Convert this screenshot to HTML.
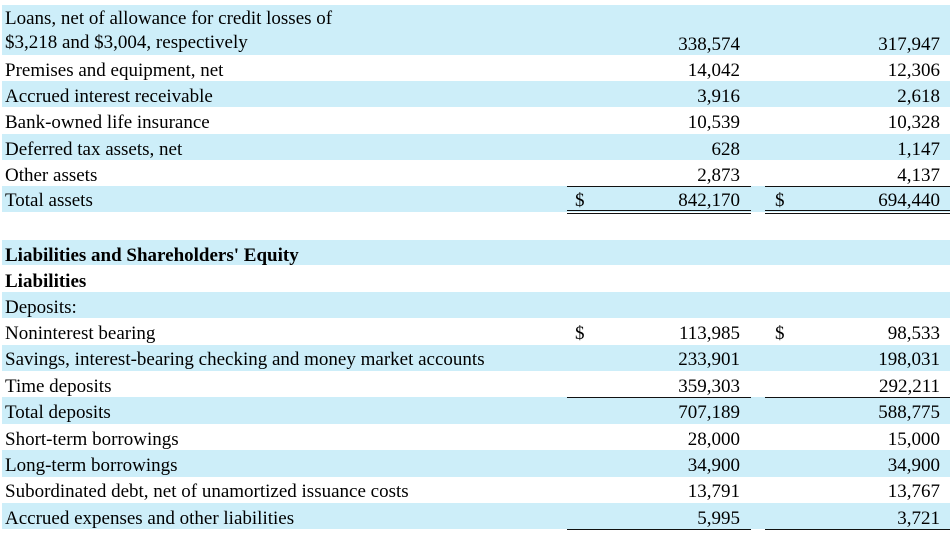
<!DOCTYPE html>
<html><head><style>
body{margin:0;width:950px;height:533px;overflow:hidden;background:#fff;font-family:"Liberation Serif",serif;font-size:19px;color:#000;position:relative}
.r{position:absolute;left:2px;width:948px}
.b{background:#cdeef9}
.t{position:absolute;left:5px;white-space:nowrap}
.n1,.n2{position:absolute;text-align:right;width:150px}
.n1{right:210px}.n2{right:10px}
.d{position:absolute}
.l{position:absolute;height:0;border-top:1.5px solid #111}
.dl{position:absolute;height:2px;border-top:1.5px solid #111;border-bottom:1.5px solid #111}
.x{position:absolute;left:0;top:2px;width:950px;height:533px}
</style></head><body>
<div class="r b" style="top:5px;height:50px"></div>
<div class="r b" style="top:81px;height:26px"></div>
<div class="r b" style="top:134px;height:26px"></div>
<div class="r b" style="top:186px;height:26px"></div>
<div class="r b" style="top:240px;height:25px"></div>
<div class="r b" style="top:292px;height:26px"></div>
<div class="r b" style="top:345px;height:26px"></div>
<div class="r b" style="top:397px;height:27px"></div>
<div class="r b" style="top:450px;height:27px"></div>
<div class="r b" style="top:503px;height:26px"></div>
<div class="l" style="top:186px;left:567px;width:184px"></div><div class="l" style="top:186px;left:765px;width:185px"></div>
<div class="dl" style="top:210px;left:567px;width:184px"></div><div class="dl" style="top:210px;left:765px;width:185px"></div>
<div class="l" style="top:397px;left:567px;width:184px"></div><div class="l" style="top:397px;left:765px;width:185px"></div>
<div class="l" style="top:529px;left:567px;width:184px"></div><div class="l" style="top:529px;left:765px;width:185px"></div>
<div class="x">
<div class="t" style="top:6px">Loans, net of allowance for credit losses of</div>
<div class="t" style="top:30px">$3,218 and $3,004, respectively</div>
<div class="n1" style="top:32px">338,574</div><div class="n2" style="top:32px">317,947</div>
<div class="t" style="top:58px">Premises and equipment, net</div>
<div class="n1" style="top:58px">14,042</div><div class="n2" style="top:58px">12,306</div>
<div class="t" style="top:84px">Accrued interest receivable</div>
<div class="n1" style="top:84px">3,916</div><div class="n2" style="top:84px">2,618</div>
<div class="t" style="top:110px">Bank-owned life insurance</div>
<div class="n1" style="top:110px">10,539</div><div class="n2" style="top:110px">10,328</div>
<div class="t" style="top:137px">Deferred tax assets, net</div>
<div class="n1" style="top:137px">628</div><div class="n2" style="top:137px">1,147</div>
<div class="t" style="top:163px">Other assets</div>
<div class="n1" style="top:163px">2,873</div><div class="n2" style="top:163px">4,137</div>
<div class="t" style="top:188px">Total assets</div>
<div class="d" style="top:188px;left:575px">$</div><div class="d" style="top:188px;left:775px">$</div>
<div class="n1" style="top:188px">842,170</div><div class="n2" style="top:188px">694,440</div>
<div class="t" style="top:243px;font-weight:bold">Liabilities and Shareholders' Equity</div>
<div class="t" style="top:269px;font-weight:bold">Liabilities</div>
<div class="t" style="top:295px">Deposits:</div>
<div class="t" style="top:321px">Noninterest bearing</div>
<div class="d" style="top:321px;left:575px">$</div><div class="d" style="top:321px;left:775px">$</div>
<div class="n1" style="top:321px">113,985</div><div class="n2" style="top:321px">98,533</div>
<div class="t" style="top:347px">Savings, interest-bearing checking and money market accounts</div>
<div class="n1" style="top:347px">233,901</div><div class="n2" style="top:347px">198,031</div>
<div class="t" style="top:374px">Time deposits</div>
<div class="n1" style="top:374px">359,303</div><div class="n2" style="top:374px">292,211</div>
<div class="t" style="top:400px">Total deposits</div>
<div class="n1" style="top:400px">707,189</div><div class="n2" style="top:400px">588,775</div>
<div class="t" style="top:427px">Short-term borrowings</div>
<div class="n1" style="top:427px">28,000</div><div class="n2" style="top:427px">15,000</div>
<div class="t" style="top:453px">Long-term borrowings</div>
<div class="n1" style="top:453px">34,900</div><div class="n2" style="top:453px">34,900</div>
<div class="t" style="top:479px">Subordinated debt, net of unamortized issuance costs</div>
<div class="n1" style="top:479px">13,791</div><div class="n2" style="top:479px">13,767</div>
<div class="t" style="top:506px">Accrued expenses and other liabilities</div>
<div class="n1" style="top:506px">5,995</div><div class="n2" style="top:506px">3,721</div>
</div>
</body></html>
